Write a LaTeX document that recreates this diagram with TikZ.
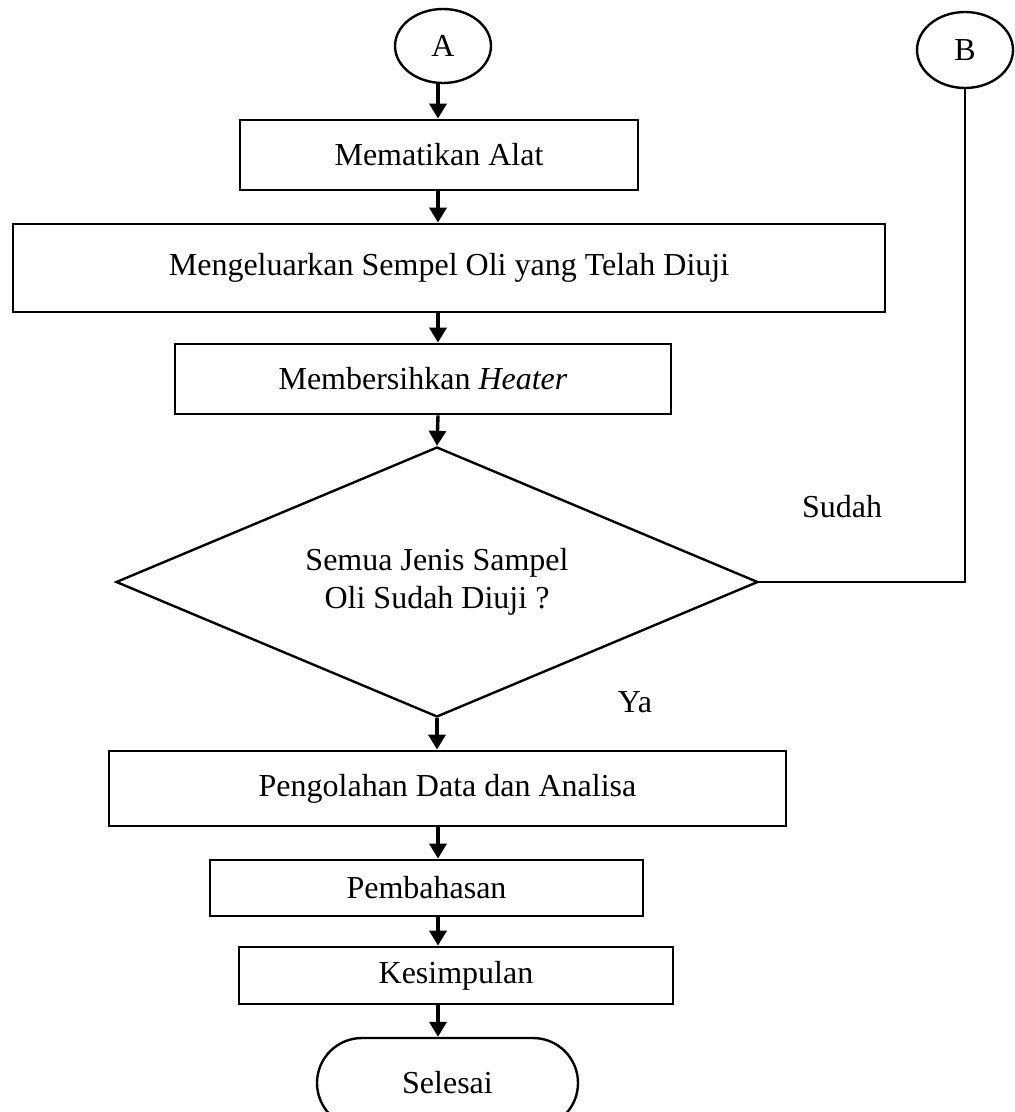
\documentclass[tikz,border=0pt]{standalone}
\usepackage{fontspec}
\setmainfont{Liberation Serif}
\usetikzlibrary{arrows.meta,shapes.geometric}
\begin{document}
\begin{tikzpicture}[x=0.5pt,y=-0.5pt,
  every node/.style={font=\fontsize{16}{19}\selectfont, inner sep=0pt, align=center},
  procbox/.style={draw, line width=1.4pt, rectangle},
  connector/.style={draw, ellipse, line width=1.2pt},
  decision/.style={draw, diamond, line width=1.2pt, aspect=2.378},
  terminal/.style={draw, rectangle, rounded corners=22.5pt, line width=1.2pt},
  flow/.style={line width=1.7pt, -{Triangle[width=8.5pt,length=7.5pt]}},
  link/.style={line width=0.9pt}]
\useasboundingbox (0,0) rectangle (1014,1112);
\clip (0,0) rectangle (1014,1112);

% off-page connectors
\node[connector, minimum width=48pt, minimum height=37pt] (A) at (443,46) {A};
\node[connector, minimum width=48pt, minimum height=38pt] (B) at (965,50) {B};

% process steps
\node[procbox, minimum width=199pt, minimum height=35pt] (b1) at (439,155) {Mematikan Alat};
\node[procbox, minimum width=436pt, minimum height=44pt] (b2) at (449,268) {Mengeluarkan Sempel Oli yang Telah Diuji};
\node[procbox, minimum width=248pt, minimum height=35pt] (b3) at (423,379) {Membersihkan \textit{Heater}};
\node[decision, minimum width=321pt, minimum height=135pt] (d) at (437,582) {Semua Jenis Sampel\\Oli Sudah Diuji ?};
\node[procbox, minimum width=338.5pt, minimum height=37.5pt] (b4) at (447.5,788.5) {Pengolahan Data dan Analisa};
\node[procbox, minimum width=216.5pt, minimum height=28pt] (b5) at (426.5,888) {Pembahasan};
\node[procbox, minimum width=217pt, minimum height=28.5pt] (b6) at (456,975.5) {Kesimpulan};
\node[terminal, minimum width=130.5pt, minimum height=45pt] (end) at (447.5,1083) {Selesai};

% branch labels
\node (sudah) at (842,507) {Sudah};
\node (ya) at (635,702) {Ya};

% main flow column
\coordinate (col) at (438,0);
\draw[flow] (col |- A.south) -- (col |- b1.north);
\draw[flow] (col |- b1.south) -- (col |- b2.north);
\draw[flow] (col |- b2.south) -- (col |- b3.north);
\draw[flow] (col |- b3.south) -- (d.north);
\draw[flow] (d.south) -- (d.south |- b4.north);
\draw[flow] (col |- b4.south) -- (col |- b5.north);
\draw[flow] (col |- b5.south) -- (col |- b6.north);
\draw[flow] (col |- b6.south) -- (col |- end.north);

% return branch to B
\draw[link] (d.east) -| (B.south);
\end{tikzpicture}
\end{document}
